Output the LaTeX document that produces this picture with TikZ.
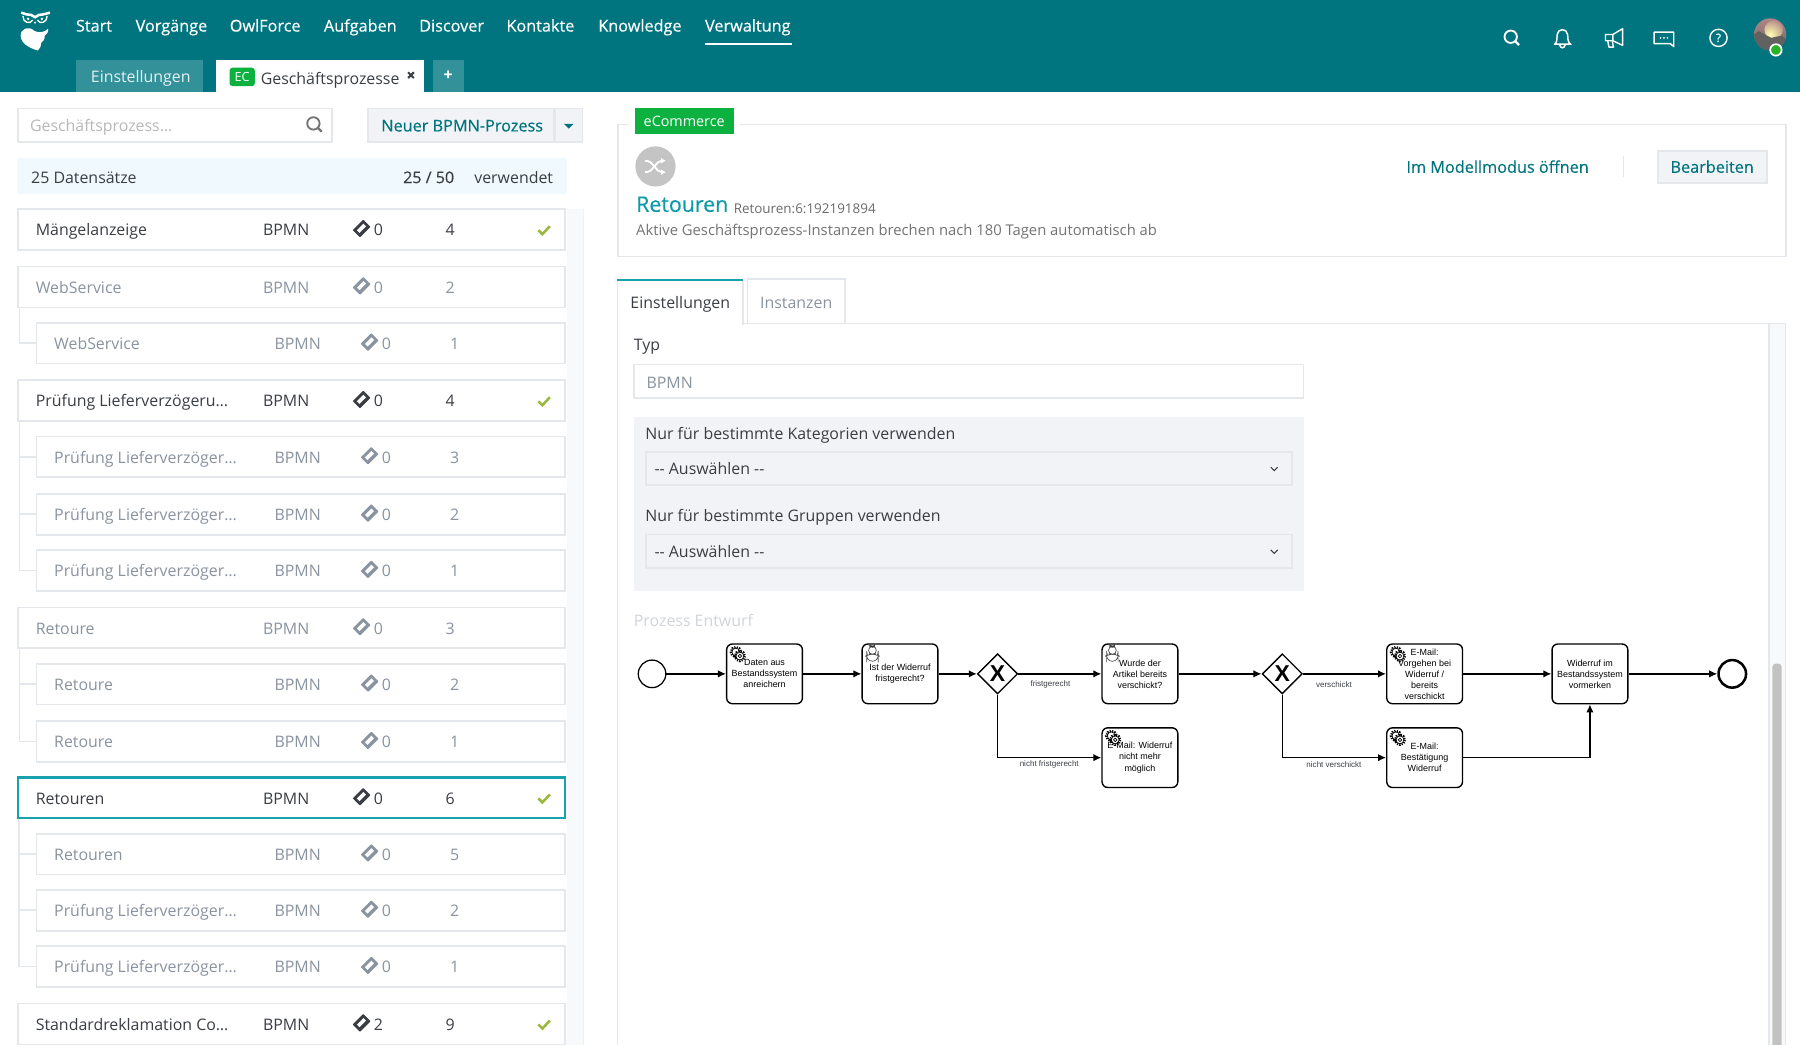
\documentclass[tikz,border=0pt]{standalone}
\usepackage{fontspec}
\setmainfont{Open Sans}
\newfontfamily\semifont[FakeBold=0.4]{Open Sans}
\newfontfamily\bpmnfont{Liberation Sans}
\usetikzlibrary{arrows.meta, positioning, shapes.geometric, calc}
\definecolor{myteal}{RGB}{0, 117, 127}
\definecolor{mylightteal}{RGB}{51, 145, 153}
\definecolor{mycyan}{RGB}{14, 154, 167}
\definecolor{myselect}{RGB}{24, 162, 173}
\definecolor{mygreen}{RGB}{13, 177, 64}
\definecolor{mydark}{RGB}{58, 62, 68}
\definecolor{mygrey}{RGB}{138, 147, 160}
\definecolor{myfaint}{RGB}{208, 211, 216}
\definecolor{myborder}{RGB}{228, 232, 237}
\definecolor{mypanel}{RGB}{241, 243, 246}
\definecolor{mystrip}{RGB}{248, 249, 250}
\definecolor{mycheck}{RGB}{154, 185, 60}
\tikzset{
  uitext/.style={
    anchor=west, inner sep=0pt, text height=12pt, text depth=1pt,
    font=\fontsize{13.85}{17}\selectfont, text=mydark
  },
  navtext/.style={uitext, text=white, font=\semifont\fontsize{14.15}{17}\selectfont},
  tealtext/.style={uitext, text=myteal, font=\semifont\fontsize{14.15}{17}\selectfont},
  boxrect/.style={
    draw=myborder, line width=1.5pt, fill=white, rectangle,
    inner sep=0pt, minimum height=29pt
  },
  panelbutton/.style={boxrect, fill=mypanel},
  selectbox/.style={boxrect, fill=mypanel, draw=myborder, minimum width=563pt},
  rowbox/.style={boxrect, minimum height=35.5pt},
  treeline/.style={draw=myborder, line width=1.5pt},
  task/.style={
    draw=black, fill=white, rectangle, rounded corners=5pt, line width=1.2pt,
    minimum width=66pt, minimum height=52pt, inner sep=0pt, align=center,
    font=\bpmnfont\fontsize{7.8}{9.6}\selectfont
  },
  servicetask/.style={task, path picture={
    \pic at ($(path picture bounding box.north west)+(8,7)$) {gearicon};
  }},
  usertask/.style={task, path picture={
    \pic at ($(path picture bounding box.north west)+(9,7)$) {usericon};
  }},
  gateway/.style={
    diamond, draw=black, fill=white, line width=1.2pt, inner sep=0pt,
    minimum width=35pt, minimum height=35pt,
    font=\bpmnfont\bfseries\fontsize{20}{20}\selectfont
  },
  flowlabel/.style={inner sep=0pt, text=mydark, font=\bpmnfont\fontsize{7}{8}\selectfont},
  arrow/.style={-{Latex[length=7pt,width=6.5pt]}, line width=1.2pt, black},
  pics/ticketicon/.style={code={
    \fill[#1, rotate=45, rounded corners=0.6pt] (-6.5,-4.5) rectangle (6.5,4.5);
    \fill[white, rotate=45] (-4,-1.8) rectangle (4,1.4);
  }},
  pics/checkicon/.style={code={
    \draw[mycheck, line width=2.2pt] (-5,0) -- (-1.5,3.5) -- (5,-3.5);
  }},
  pics/searchicon/.style={code={
    \draw[#1, line width=1.6pt] (-1,-1) circle (5.4);
    \draw[#1, line width=1.9pt] (3,3) -- (6.2,6.2);
  }},
  pics/chevronicon/.style={code={
    \draw[mydark, line width=1pt] (-3,-1.5) -- (0,1.5) -- (3,-1.5);
  }},
  pics/gearicon/.style={code={
    \draw[black, line width=2.4pt, dash pattern=on 1pt off 1pt] (0,0) circle (4.2);
    \draw[black, fill=white, line width=0.6pt] (0,0) circle (3.4);
    \draw[black, line width=2.4pt, dash pattern=on 1pt off 1pt] (3.5,3.5) circle (4.2);
    \draw[black, fill=white, line width=0.6pt] (3.5,3.5) circle (3.4);
    \draw[black, line width=0.6pt] (3.5,3.5) circle (1.5);
  }},
  pics/usericon/.style={code={
    \draw[black!70, line width=0.6pt] (-5,8) -- (-5,4) .. controls (-5,2.5) and (-3,2) .. (-2,1.5)
      -- (2,1.5) .. controls (3,2) and (5,2.5) .. (5,4) -- (5,8) -- cycle;
    \draw[black!70, fill=white, line width=0.6pt] (0,-1.5) circle (3.4);
    \fill[black!80] (-3.2,-2) .. controls (-2.5,-5.2) and (2.5,-5.2) .. (3.2,-2) .. controls (1.5,-3.2) and (-1.5,-3.2) .. (-3.2,-2) -- cycle;
  }}
}
% one line of the process list: name, y, colour, label, tickets, version
\newcommand{\parentrow}[7][]{
  \node[rowbox, minimum width=476.5pt, #1] (#2) at (254,#3) {};
  \node[uitext, text=#4] (#2name) at (31,#3) {#5};
  \node[uitext, text=#4] (#2type) at (229,#3) {BPMN};
  \pic at (315,#3-1) {ticketicon=#4};
  \node[uitext, text=#4] (#2tick) at (325.5,#3) {#6};
  \node[uitext, text=#4] (#2ver) at (388,#3) {#7};
}
\newcommand{\childrow}[4]{
  \node[rowbox, minimum width=460.5pt] (#1) at (262,#2) {};
  \node[uitext, text=mygrey] (#1name) at (47,#2) {#3};
  \node[uitext, text=mygrey] (#1type) at (239,#2) {BPMN};
  \pic at (322,#2-1) {ticketicon=mygrey};
  \node[uitext, text=mygrey] (#1tick) at (332.5,#2) {0};
  \node[uitext, text=mygrey] (#1ver) at (392,#2) {#4};
}

\begin{document}
\begin{tikzpicture}[x=1pt, y=-1pt]
  \useasboundingbox (0,0) rectangle (1568,910.3);
  % header
  \fill[myteal] (0,0) rectangle (1568,80);
  \draw[white, line width=2.2pt] (18.5,11) -- (23,12.5) .. controls (26,12.5) and (28.5,13) .. (30.5,15) .. controls (32.5,13) and (35,12.5) .. (38,12.5) -- (43.5,11);
  \draw[white, line width=1.2pt] (20,14) .. controls (19.5,19) and (26,22) .. (28.5,17.5);
  \draw[white, line width=1.2pt] (41,14) .. controls (41.5,19) and (35,22) .. (32.5,17.5);
  \fill[white] (24.5,16.5) circle (1.2) (36.5,16.5) circle (1.2) (29.5,19) -- (31.5,19) -- (30.5,21) -- cycle;
  \fill[white] (18,31) .. controls (18,25) and (25,22) .. (30,27) .. controls (34,29) and (39,28) .. (42,25) .. controls (42,28) and (41,30) .. (39,31) .. controls (39,34) and (38,36) .. (36,37) .. controls (36,40) and (35,42) .. (33,44) .. controls (26,42) and (18,38) .. (18,31) -- cycle;
  \node[navtext] (start) at (66,22) {Start};
  \node[navtext] (vorgaenge) at (118,22) {Vorgänge};
  \node[navtext] (owlforce) at (200,22) {OwlForce};
  \node[navtext] (aufgaben) at (282,22) {Aufgaben};
  \node[navtext] (discover) at (365,22) {Discover};
  \node[navtext] (kontakte) at (441,22) {Kontakte};
  \node[navtext] (knowledge) at (521,22) {Knowledge};
  \node[navtext] (verwaltung) at (614,22) {Verwaltung};
  \fill[white] (614,37.5) rectangle (690,39.5);
  % header icons
  \pic at (1317,33) {searchicon=white};
  \draw[white, line width=1.3pt] (1354.5,38.5) .. controls (1357,36) and (1356,32) .. (1356.5,30) .. controls (1357,24.5) and (1365,24.5) .. (1365.5,30) .. controls (1366,32) and (1365,36) .. (1368,38.5) -- cycle;
  \draw[white, line width=1.3pt] (1358.5,39) .. controls (1359.5,42.5) and (1362.5,42.5) .. (1363.5,39);
  \draw[white, line width=1.2pt, line join=round] (1398.5,30) -- (1405,30) -- (1413.5,25) -- (1413.5,39.5) -- (1405,35.5) -- (1398.5,35.5) -- cycle (1405,30) -- (1405,35.5);
  \draw[white, line width=1.2pt, line join=round] (1400.5,35.5) -- (1401.5,41) -- (1405.5,41) -- (1404.5,36);
  \draw[white, line width=1.3pt, line join=round] (1458,38.5) -- (1458,28) -- (1441,28) -- (1441,38) -- (1455,38) -- (1458,40.5) -- cycle;
  \fill[white] (1446.5,33) circle (0.8) (1449.5,33) circle (0.8) (1452.5,33) circle (0.8);
  \node[draw=white, line width=1.2pt, circle, minimum size=15pt, inner sep=0pt, text=white, font=\semifont\fontsize{10}{10}\selectfont] (helpicon) at (1497,33) {?};
  \node[circle, minimum size=28pt, inner sep=0pt, top color=black!30!pink, bottom color=black!60, path picture={
    \shade[inner color=yellow!30!white, outer color=black!30!pink] (3,-4) circle (8);
    \fill[black!62] (-16,2) -- (-10,-3) -- (-5,0) -- (1,3) -- (10,1) -- (16,6) -- (16,16) -- (-16,16) -- cycle;
  }] (avatar) at (1542,30) {};
  \node[circle, draw=white, line width=1.5pt, fill=green!65!black!85, minimum size=10pt, inner sep=0pt] (status) at (1547,43.5) {};
  % tabs in the header
  \node[rectangle, fill=mylightteal, minimum width=111pt, minimum height=28pt, inner sep=0pt] (settab) at (121.5,66) {};
  \node[uitext, text=white!90!myteal] (settabtext) at (79,66) {Einstellungen};
  \node[rectangle, fill=white, minimum width=181pt, minimum height=28pt, inner sep=0pt] (bptab) at (278.5,66) {};
  \node[rectangle, fill=mygreen, rounded corners=2.5pt, minimum width=22pt, minimum height=16pt, inner sep=0pt, text=white, font=\fontsize{11}{11}\selectfont] (ecbadge) at (211,67) {EC};
  \node[uitext] (bptabtext) at (227,68) {Geschäftsprozesse};
  \draw[mydark, line width=1.8pt] (355.5,63) -- (360.5,68) (360.5,63) -- (355.5,68);
  \node[rectangle, fill=mylightteal, minimum width=27pt, minimum height=28pt, inner sep=0pt, text=white, font=\bfseries\fontsize{14}{14}\selectfont] (plustab) at (390.5,66) {+};
  % left column
  \node[boxrect, minimum width=274pt] (search) at (152.5,109) {};
  \node[uitext, text=black!28] (searchtext) at (26,109) {Geschäftsprozess…};
  \pic at (274,108.5) {searchicon=black!55};
  \node[panelbutton, minimum width=162pt] (newbutton) at (401.5,109) {};
  \node[tealtext] (newtext) at (332,109) {Neuer BPMN-Prozess};
  \node[panelbutton, minimum width=24pt] (newcaret) at (495.5,109) {};
  \fill[myteal] (491.5,108) -- (499.5,108) -- (495.5,112) -- cycle;
  \node[rectangle, fill=cyan!6, minimum width=479pt, minimum height=31pt, inner sep=0pt] (statsbar) at (254.5,153.5) {};
  \node[uitext] (statscount) at (27,154) {25 Datensätze};
  \node[uitext, font=\semifont\fontsize{14}{17}\selectfont] (statsused) at (351,154) {25 / 50};
  \node[uitext] (statsword) at (413,154) {verwendet};
  \fill[mystrip] (494,182) rectangle (508,911);
  \draw[myborder!60, line width=0.8pt] (508,182) -- (508,911);
  % process list
  \parentrow{maengel}{200}{mydark}{Mängelanzeige}{0}{4}
  \parentrow{web}{250}{mygrey}{WebService}{0}{2}
  \childrow{webone}{299}{WebService}{1}
  \parentrow{pruef}{349}{mydark}{Prüfung Lieferverzögeru…}{0}{4}
  \childrow{pruefone}{398}{Prüfung Lieferverzöger…}{3}
  \childrow{prueftwo}{448}{Prüfung Lieferverzöger…}{2}
  \childrow{pruefthree}{497}{Prüfung Lieferverzöger…}{1}
  \parentrow{ret}{547}{mygrey}{Retoure}{0}{3}
  \childrow{retone}{596}{Retoure}{2}
  \childrow{rettwo}{646}{Retoure}{1}
  \parentrow[draw=myselect, line width=1.8pt]{retouren}{695}{mydark}{Retouren}{0}{6}
  \childrow{retourenone}{744}{Retouren}{5}
  \childrow{retourentwo}{793}{Prüfung Lieferverzöger…}{2}
  \childrow{retourenthree}{842}{Prüfung Lieferverzöger…}{1}
  \parentrow{standard}{892}{mydark}{Standardreklamation Co…}{2}{9}
  \pic at (474,200.5) {checkicon};
  \pic at (474,349.5) {checkicon};
  \pic at (474,695.5) {checkicon};
  \pic at (474,892.5) {checkicon};
  \draw[treeline] ([xshift=2pt]web.south west) |- (webone.west);
  \draw[treeline] ([xshift=2pt]pruef.south west) |- (pruefone.west);
  \draw[treeline] ([xshift=2pt]pruef.south west) |- (prueftwo.west);
  \draw[treeline] ([xshift=2pt]pruef.south west) |- (pruefthree.west);
  \draw[treeline] ([xshift=2pt]ret.south west) |- (retone.west);
  \draw[treeline] ([xshift=2pt]ret.south west) |- (rettwo.west);
  \draw[treeline] ([xshift=2pt]retouren.south west) |- (retourenone.west);
  \draw[treeline] ([xshift=2pt]retouren.south west) |- (retourentwo.west);
  \draw[treeline] ([xshift=2pt]retouren.south west) |- (retourenthree.west);
  % process head panel
  \node[boxrect, minimum width=1017pt, minimum height=115pt] (headpanel) at (1047,166) {};
  \node[rectangle, fill=white, minimum width=98pt, minimum height=26pt, inner sep=0pt] (badgegap) at (596,105.5) {};
  \node[rectangle, fill=mygreen, minimum width=86pt, minimum height=23pt, inner sep=0pt, text=white, font=\fontsize{12.5}{14}\selectfont] (ecommerce) at (596,105.5) {eCommerce};
  \node[circle, fill=black!23, minimum size=35pt, inner sep=0pt] (proclogo) at (571,145) {};
  \draw[white, line width=1.6pt, -{Latex[length=4pt,width=5pt]}] (562,140) .. controls (570,140) and (571,150) .. (580,150);
  \draw[white, line width=1.6pt, -{Latex[length=4pt,width=5pt]}] (562,150) .. controls (570,150) and (571,140) .. (580,140);
  \node[uitext, text=mycyan, font=\semifont\fontsize{18.6}{22}\selectfont] (proctitle) at (554,179) {Retouren};
  \node[uitext, text=black!58, font=\fontsize{11.7}{14}\selectfont] (procid) at (639,180.5) {Retouren:6:192191894};
  \node[uitext, text=black!55, font=\fontsize{12.9}{16}\selectfont] (procinfo) at (554,200) {Aktive Geschäftsprozess-Instanzen brechen nach 180 Tagen automatisch ab};
  \node[tealtext] (modelllink) at (1225,145) {Im Modellmodus öffnen};
  \draw[myborder, line width=1.5pt] (modelllink.east) ++(30,-9) -- ++(0,18);
  \node[panelbutton, minimum width=95pt, minimum height=28pt] (editbutton) at (1492,145.5) {};
  \node[tealtext] (edittext) at (1455,145) {Bearbeiten};
  % settings panel
  \fill[mystrip] (1541,282) rectangle (1555,911);
  \fill[black!24, rounded corners=3pt] (1544,578) rectangle (1552,920);
  \draw[myborder, line width=1.2pt] (538,911) -- (538,282) -- (1555.5,282) -- (1555.5,911) (1541,282) -- (1541,911);
  \node[boxrect, fill=none, draw=myborder, line width=1.2pt, minimum width=85pt, minimum height=39pt] (insttab) at (693.5,262.5) {};
  \node[rectangle, fill=white, minimum width=109pt, minimum height=38.5pt, inner sep=0pt] (settingstab) at (592.5,263.5) {};
  \draw[myborder, line width=1.2pt] (settingstab.south west) -- (settingstab.north west) (settingstab.north east) -- (settingstab.south east);
  \draw[myselect, line width=2.2pt] (settingstab.north west) -- (settingstab.north east);
  \node[uitext] (settingstext) at (549,263) {Einstellungen};
  \node[uitext, text=mygrey] (insttext) at (662,263) {Instanzen};
  \node[uitext] (typlabel) at (552,300) {Typ};
  \node[boxrect, minimum width=583pt, draw=myborder] (typbox) at (844,332) {};
  \node[uitext, text=mygrey] (typtext) at (563,332.5) {BPMN};
  \node[rectangle, fill=mypanel, minimum width=584pt, minimum height=152pt, inner sep=0pt] (greyblock) at (844,439) {};
  \node[uitext] (katlabel) at (562,377) {Nur für bestimmte Kategorien verwenden};
  \node[selectbox] (katbox) at (844,408) {};
  \node[uitext] (kattext) at (570,408) {{-}{-} Auswählen {-}{-}};
  \pic at (1110,408.5) {chevronicon};
  \node[uitext] (grplabel) at (562,449) {Nur für bestimmte Gruppen verwenden};
  \node[selectbox] (grpbox) at (844,480) {};
  \node[uitext] (grptext) at (570,480) {{-}{-} Auswählen {-}{-}};
  \pic at (1110,480.5) {chevronicon};
  \node[uitext, text=myfaint] (entwurf) at (552,540) {Prozess Entwurf};
  % process draft
  \node[circle, draw=black, line width=1.1pt, fill=white, minimum size=24pt, inner sep=0pt] (startev) at (568,587) {};
  \node[servicetask] (anreichern) at (666,587) {Daten aus\\Bestandssystem\\anreichern};
  \node[usertask] (fristfrage) at (784,587) {Ist der Widerruf\\fristgerecht?};
  \node[gateway] (fristgate) at (869,587) {X};
  \node[usertask] (artikelfrage) at (993,587) {Wurde der\\Artikel bereits\\verschickt?};
  \node[servicetask] (absage) at (993,660) {E-Mail: Widerruf\\nicht mehr\\möglich};
  \node[gateway] (versandgate) at (1117,587) {X};
  \node[servicetask] (vorgehen) at (1241,587) {E-Mail:\\Vorgehen bei\\Widerruf /\\bereits\\verschickt};
  \node[servicetask] (bestaetigung) at (1241,660) {E-Mail:\\Bestätigung\\Widerruf};
  \node[task] (vormerken) at (1385,587) {Widerruf im\\Bestandssystem\\vormerken};
  \node[circle, draw=black, line width=2.2pt, fill=white, minimum size=24pt, inner sep=0pt] (endev) at (1509,587) {};
  \draw[arrow] (startev) -- (anreichern);
  \draw[arrow] (anreichern) -- (fristfrage);
  \draw[arrow] (fristfrage) -- (fristgate);
  \draw[arrow] (fristgate) -- (artikelfrage);
  \draw[arrow] (fristgate.south) |- (absage.west);
  \draw[arrow] (artikelfrage) -- (versandgate);
  \draw[arrow] (versandgate) -- (vorgehen);
  \draw[arrow] (versandgate.south) |- (bestaetigung.west);
  \draw[arrow] (vorgehen) -- (vormerken);
  \draw[arrow] (bestaetigung.east) -| (vormerken.south);
  \draw[arrow] (vormerken) -- (endev);
  \node[flowlabel] (lblfrist) at (915,596) {fristgerecht};
  \node[flowlabel] (lblnichtfrist) at (914,666) {nicht fristgerecht};
  \node[flowlabel] (lblversand) at (1162,596) {verschickt};
  \node[flowlabel] (lblnichtversand) at (1162,666) {nicht verschickt};
\end{tikzpicture}
\end{document}
